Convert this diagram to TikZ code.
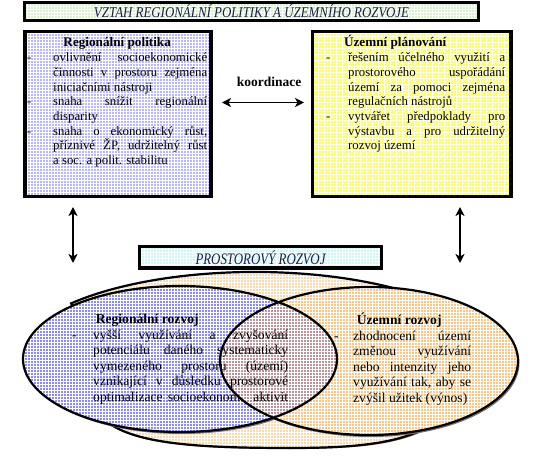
\documentclass[tikz,border=0pt]{standalone}
\usepackage{fontspec}
\setmainfont{Liberation Serif}
\usepackage{graphicx}
\usetikzlibrary{patterns,arrows.meta}
\definecolor{titlefill}{HTML}{D6F4CC}
\definecolor{lavfill}{HTML}{B8B8F8}
\definecolor{yelfill}{HTML}{FFFF5C}
\definecolor{cyanfill}{HTML}{CCF8F8}
\definecolor{outerfill}{HTML}{FADAAA}
\definecolor{bluefill}{HTML}{8C8CEC}
\definecolor{orangefill}{HTML}{F8C882}
\definecolor{mixfill}{HTML}{B8949C}
\definecolor{headtext}{HTML}{1C1C48}
\newlength{\colw}
\newlength{\indw}
\newcommand{\bJ}[1]{\makebox[\indw][l]{-}\makebox[\colw][s]{#1}}
\newcommand{\cJ}[1]{\hspace*{\indw}\makebox[\colw][s]{#1}}
\newcommand{\cL}[1]{\hspace*{\indw}#1}
\begin{document}
\begin{tikzpicture}[x=1pt,y=-1pt,
  frame/.style={draw=black, line width=3.2pt},
  tex/.style={postaction={pattern=grid, pattern color=white, fill opacity=0.35}},
  txt/.style={inner sep=0pt, anchor=base west},
  ebord/.style={draw=black, line width=2.2pt},
  shadow/.style={fill=black!55},
  arr/.style={line width=1.8pt, {Stealth[length=9pt,width=9pt,inset=2.5pt]}-{Stealth[length=9pt,width=9pt,inset=2.5pt]}},
  headline/.style={inner sep=0pt, text=headtext}]
\useasboundingbox (0,0) rectangle (557,462);

% title box
\path[fill=titlefill, tex] (24.5,2.5) rectangle (478.5,20.5);
\path[frame] (24.5,2.5) rectangle (478.5,20.5);
\node[headline] (title) at (251.5,11.5) {\resizebox{315pt}{\height}{\fontsize{15}{15}\selectfont\itshape VZTAH REGIONÁLNÍ POLITIKY A ÚZEMNÍHO ROZVOJE}};

% upper boxes
\path[fill=lavfill, tex] (25,31.5) rectangle (211,196.5);
\path[frame] (25,31.5) rectangle (211,196.5);
\path[fill=yelfill, tex] (312.5,31.5) rectangle (511,196.5);
\path[frame] (312.5,31.5) rectangle (511,196.5);

\node[txt] (lptext) at (27,47) {\parbox[t]{180pt}{\setlength{\indw}{26pt}\setlength{\colw}{154pt}\fontsize{12.8}{14.7}\selectfont
\makebox[180pt]{\fontsize{13.2}{14.7}\selectfont\bfseries Regionální politika}\\
\bJ{ovlivnění socioekonomické}\\
\cJ{činnosti v prostoru zejména}\\
\cL{iniciačními nástroji}\\
\bJ{snaha snížit regionální}\\
\cL{disparity}\\
\bJ{snaha o ekonomický růst,}\\
\cJ{příznivé ŽP, udržitelný růst}\\
\cL{a soc. a polit. stabilitu}}};

\node[txt] (uptext) at (326,47) {\parbox[t]{179pt}{\setlength{\indw}{22pt}\setlength{\colw}{157pt}\fontsize{12.8}{14.7}\selectfont
\makebox[138pt]{\fontsize{13.2}{14.7}\selectfont\bfseries Územní plánování}\\
\bJ{řešením účelného využití a}\\
\cJ{prostorového uspořádání}\\
\cJ{území za pomoci zejména}\\
\cL{regulačních nástrojů}\\
\bJ{vytvářet předpoklady pro}\\
\cJ{výstavbu a pro udržitelný}\\
\cL{rozvoj území}}};

% coordination
\node[inner sep=0pt, anchor=base] (koord) at (269,87) {\fontsize{13.5}{13.5}\selectfont\bfseries koordinace};
\coordinate (ka) at (222,102.5);
\coordinate (kb) at (304,102.5);
\draw[arr] (ka) -- (kb);

% vertical arrows
\coordinate (la) at (73,207);
\coordinate (lb) at (73,263);
\coordinate (ra) at (460,207);
\coordinate (rb) at (460,263);
\draw[arr, line width=1.6pt] (la) -- (lb);
\draw[arr, line width=1.6pt] (ra) -- (rb);

% prostorovy rozvoj box
\path[fill=cyanfill, tex] (139.5,246.5) rectangle (381.5,268);
\path[frame] (139.5,246.5) rectangle (381.5,268);
\node[headline] (prost) at (260.5,257.5) {\resizebox{130pt}{\height}{\fontsize{16}{16}\selectfont\itshape PROSTOROVÝ ROZVOJ}};

% outer pale shape (its ends are hidden under the two ellipses)
\path[shadow] ([shift={(1.5,2)}]71.1,303.4) arc[start angle=140, end angle=40, x radius=240pt, y radius=88pt]
  -- ++(21,76.6)
  .. controls ++(-10,60) and (380,449) .. (290,449)
  .. controls (200,449) and (140,445) .. (110,425) -- (90,340) -- cycle;
\path[fill=outerfill, tex] (71.1,303.4) arc[start angle=140, end angle=40, x radius=240pt, y radius=88pt]
  -- (460,380)
  .. controls (450,440) and (380,448) .. (290,448)
  .. controls (200,448) and (140,444) .. (110,424) -- (90,340) -- cycle;
\path[ebord] (71.1,303.4) arc[start angle=140, end angle=40, x radius=240pt, y radius=88pt]
  -- (460,380)
  .. controls (450,440) and (380,448) .. (290,448)
  .. controls (200,448) and (140,444) .. (110,424) -- (90,340) -- cycle;

% blue and orange ellipses
\path[shadow] (181.5,361) ellipse [x radius=157pt, y radius=73pt];
\path[shadow] (370.5,363) ellipse [x radius=149pt, y radius=74pt];
\path[fill=bluefill] (180,359) ellipse [x radius=157pt, y radius=73pt];
\path[fill=orangefill] (369,361) ellipse [x radius=149pt, y radius=74pt];
\begin{scope}
  \clip (180,359) ellipse [x radius=157pt, y radius=73pt];
  \path[fill=mixfill] (369,361) ellipse [x radius=149pt, y radius=74pt];
\end{scope}
\path[tex] (180,359) ellipse [x radius=157pt, y radius=73pt];
\path[tex] (369,361) ellipse [x radius=149pt, y radius=74pt];
\path[ebord] (180,359) ellipse [x radius=157pt, y radius=73pt];
\path[ebord] (369,361) ellipse [x radius=149pt, y radius=74pt];

\node[txt] (rrtext) at (72,324) {\parbox[t]{216pt}{\setlength{\indw}{21pt}\setlength{\colw}{195pt}\fontsize{13.6}{15.5}\selectfont
\makebox[150pt]{\bfseries Regionální rozvoj}\\
\bJ{vyšší využívání a zvyšování}\\
\cJ{potenciálu daného systematicky}\\
\cJ{vymezeného prostoru (území)}\\
\cJ{vznikající v důsledku prostorové}\\
\cJ{optimalizace socioekonom. aktivit}}};

\node[txt] (urtext) at (334,324.5) {\parbox[t]{137pt}{\setlength{\indw}{19pt}\setlength{\colw}{118pt}\fontsize{13.6}{15.6}\selectfont
\makebox[130pt]{\bfseries Územní rozvoj}\\
\bJ{zhodnocení území}\\
\cJ{změnou využívání}\\
\cJ{nebo intenzity jeho}\\
\cJ{využívání tak, aby se}\\
\cL{zvýšil užitek (výnos)}}};
\end{tikzpicture}
\end{document}
